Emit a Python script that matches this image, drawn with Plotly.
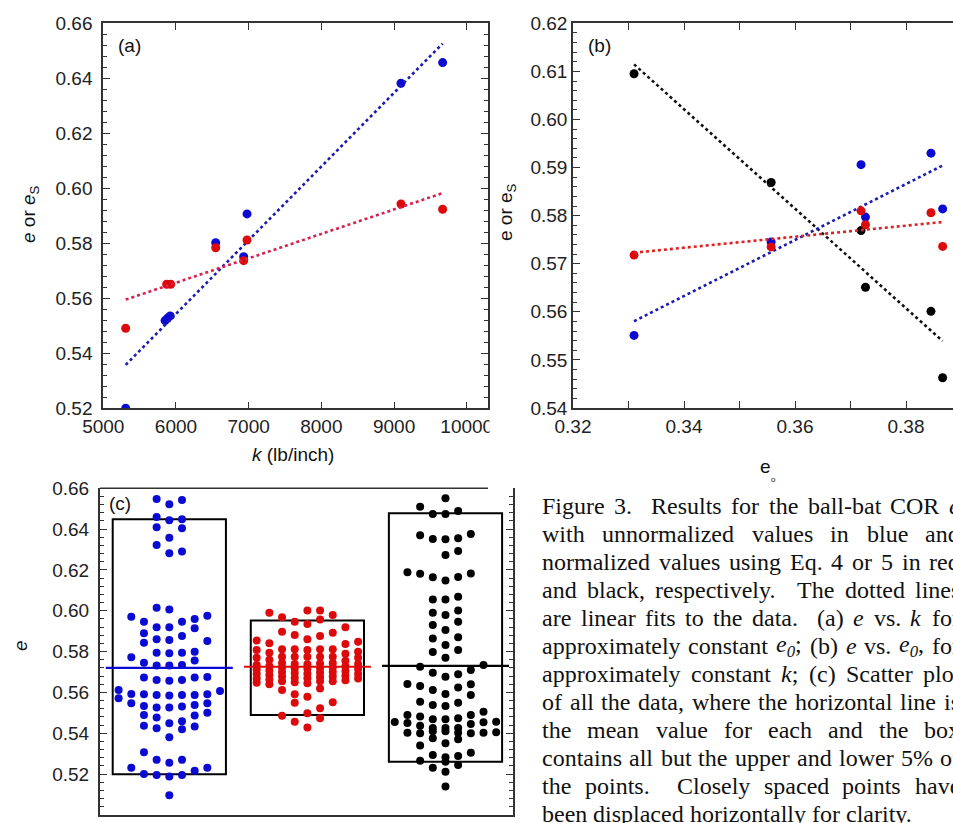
import re
import numpy as np
import plotly.graph_objects as go

# ---------------- data ----------------
# panel (a): e vs k
a_k_blue = [5308, 5850, 5885, 5920, 6546, 6931, 6977, 9095, 9668]
a_e_blue = [0.5200, 0.5519, 0.5528, 0.5536, 0.5802, 0.5751, 0.5907, 0.6382, 0.6457]
a_k_red = [5308, 5872, 5927, 6546, 6931, 6977, 9095, 9668]
a_e_red = [0.5491, 0.5651, 0.5651, 0.5784, 0.5737, 0.5812, 0.5943, 0.5924]

# panel (b): e vs e0
b_e0 = [0.3310, 0.3557, 0.3719, 0.3727, 0.3845, 0.3866]
b_e_blue = [0.5551, 0.5745, 0.5906, 0.5797, 0.5930, 0.5814]
b_e_red = [0.5718, 0.5735, 0.5810, 0.5781, 0.5806, 0.5736]
b_e_black = [0.6095, 0.5869, 0.5769, 0.5651, 0.5601, 0.5463]

# panel (c): swarm values and their column slot
c_blue_e = [0.6548, 0.6522, 0.6543, 0.6459, 0.6443, 0.6448, 0.6409, 0.6404, 0.6358, 0.6322, 0.6282, 0.6290,
            0.5971, 0.5947, 0.6015, 0.6007, 0.5947, 0.5960, 0.5976,
            0.5890, 0.5919, 0.5919, 0.5877, 0.5914,
            0.5844, 0.5861, 0.5857, 0.5852,
            0.5772, 0.5795, 0.5792, 0.5795, 0.5800,
            0.5746, 0.5732, 0.5732, 0.5735, 0.5757,
            0.5673, 0.5661, 0.5658, 0.5661, 0.5673, 0.5676,
            0.5612, 0.5572, 0.5593, 0.5591, 0.5588, 0.5585, 0.5588, 0.5588, 0.5591, 0.5607,
            0.5547, 0.5534, 0.5526, 0.5526, 0.5531, 0.5539, 0.5547,
            0.5490, 0.5478, 0.5487, 0.5501, 0.5449, 0.5459, 0.5437, 0.5425, 0.5420, 0.5433, 0.5381,
            0.5307, 0.5270, 0.5256, 0.5270, 0.5232, 0.5232, 0.5217, 0.5201, 0.5196, 0.5188, 0.5196, 0.5097]
c_blue_slot = [-1, 0, 1, -1, 0, 1, -1, 1, 0, -1, 0, 1,
               -3, -2, -1, 0, 1, 2, 3,
               -2, -1, 0, 1, 2,
               -2, -1, 0, 3,
               -3, -1, 0, 1, 2,
               -2, -1, 0, 1, 2,
               -2, -1, 0, 1, 2, 3,
               -4, -4, -3, -2, -1, 0, 1, 2, 3, 4,
               -3, -2, -1, 0, 1, 2, 3,
               -2, -1, 2, 3, 0, 1, -2, -1, 1, 2, 0,
               -2, -1, 0, 1, -3, 3, 2, -2, -1, 0, 1, 0]

c_red_e = [0.5854, 0.5808, 0.5770, 0.5735, 0.5712, 0.5690, 0.5668, 0.5648,
           0.5991, 0.5841, 0.5795, 0.5760, 0.5730, 0.5708, 0.5686, 0.5664, 0.5640,
           0.5968, 0.5898, 0.5812, 0.5775, 0.5745, 0.5722, 0.5700, 0.5678, 0.5655, 0.5612, 0.5486,
           0.5947, 0.5882, 0.5812, 0.5775, 0.5740, 0.5718, 0.5695, 0.5672, 0.5650, 0.5591, 0.5550, 0.5457,
           0.6001, 0.5935, 0.5861, 0.5808, 0.5775, 0.5738, 0.5715, 0.5692, 0.5670, 0.5645, 0.5579, 0.5498, 0.5428,
           0.6001, 0.5958, 0.5877, 0.5812, 0.5775, 0.5742, 0.5720, 0.5698, 0.5676, 0.5655, 0.5620, 0.5523, 0.5474,
           0.5980, 0.5893, 0.5812, 0.5775, 0.5745, 0.5722, 0.5700, 0.5678, 0.5655, 0.5552,
           0.5919, 0.5838, 0.5790, 0.5755, 0.5728, 0.5705, 0.5682, 0.5660,
           0.5849, 0.5800, 0.5770, 0.5740, 0.5715, 0.5690, 0.5668]
c_red_slot = [-4] * 8 + [-3] * 9 + [-2] * 11 + [-1] * 12 + [0] * 13 + [1] * 13 + [2] * 10 + [3] * 8 + [4] * 7

c_black_e = [0.6551, 0.6510, 0.6474, 0.6474, 0.6489,
             0.6370, 0.6352, 0.6350, 0.6355, 0.6376,
             0.6273, 0.6293,
             0.6189, 0.6181, 0.6164, 0.6148, 0.6166, 0.6183,
             0.6056, 0.6056, 0.6069,
             0.5991, 0.5980, 0.6001,
             0.5931, 0.5906, 0.5947,
             0.5865, 0.5833, 0.5870,
             0.5798, 0.5770, 0.5808,
             0.5726, 0.5697, 0.5677, 0.5689, 0.5710, 0.5735,
             0.5642, 0.5632, 0.5612, 0.5593, 0.5624, 0.5640,
             0.5555, 0.5539, 0.5534, 0.5550, 0.5588,
             0.5490, 0.5482, 0.5469, 0.5469, 0.5474, 0.5490, 0.5506,
             0.5456, 0.5451, 0.5437, 0.5426, 0.5426, 0.5426, 0.5446, 0.5454, 0.5457,
             0.5403, 0.5400, 0.5410, 0.5410, 0.5403, 0.5400, 0.5403, 0.5405,
             0.5376, 0.5371, 0.5351, 0.5340,
             0.5294, 0.5283, 0.5289, 0.5305,
             0.5266, 0.5261, 0.5245,
             0.5232, 0.5212,
             0.5139]
c_black_slot = [0, -2, -1, 0, 1,
                -2, -1, 0, 1, 2,
                0, 1,
                -3, -2, -1, 0, 1, 2,
                -1, 0, 1,
                -1, 0, 1,
                -1, 0, 1,
                -1, 0, 1,
                -1, 0, 1,
                -2, -1, 0, 1, 2, 3,
                -3, -2, -1, 0, 1, 2,
                -2, -1, 0, 1, 2,
                -3, -2, -1, 0, 1, 2, 3,
                -4, -3, -2, -1, 0, 1, 2, 3, 4,
                -3, -2, -1, 0, 1, 2, 3, 4,
                -1, 1, 0, -2,
                -1, 0, 1, 2,
                -2, 0, 1,
                -1, 0,
                0]

c_groups = [1, 2, 3]                      # blue, red, black
c_box_low = [0.5199, 0.5490, 0.5261]
c_box_high = [0.6448, 0.5952, 0.6478]
c_mean = [0.5721, 0.5726, 0.5730]

# ---------------- styling ----------------
W, H = 953, 823
BLUE = "#0a0ad2"
RED = "#dc0a0a"
BLACK = "#000000"
AX = "#333333"
SANS = "Liberation Sans, Arial, sans-serif"
SERIF = "Liberation Serif, Times New Roman, serif"
TICKFONT = dict(family=SANS, size=19, color="#222222")
NBSP = "\u00a0"


def fx(p):
    return p / W


def fy(p):
    return 1 - p / H


def fit_line(x, y):
    m, b = np.polyfit(x, y, 1)
    xs = np.array([min(x), max(x)])
    return xs, m * xs + b


fig = go.Figure()

# ---- panel (a)
for xs_, ys_, col, lcol in [(a_k_blue, a_e_blue, BLUE, "#1a1ab4"), (a_k_red, a_e_red, RED, "#d8204e")]:
    lx, ly = fit_line(xs_, ys_)
    fig.add_trace(go.Scatter(x=xs_, y=ys_, mode="markers", marker=dict(size=9, color=col),
                             xaxis="x", yaxis="y", showlegend=False))
    fig.add_trace(go.Scatter(x=lx, y=ly, mode="lines", line=dict(color=lcol, width=2.6, dash="dot"),
                             xaxis="x", yaxis="y", showlegend=False))

# ---- panel (b)
for ys_, col, lcol in [(b_e_black, BLACK, "#111111"), (b_e_blue, BLUE, "#1a1ab4"), (b_e_red, RED, "#e02020")]:
    lx, ly = fit_line(b_e0, ys_)
    fig.add_trace(go.Scatter(x=b_e0, y=ys_, mode="markers", marker=dict(size=9, color=col),
                             xaxis="x2", yaxis="y2", showlegend=False))
    fig.add_trace(go.Scatter(x=lx, y=ly, mode="lines", line=dict(color=lcol, width=2.6, dash="dot"),
                             xaxis="x2", yaxis="y2", showlegend=False))

# ---- panel (c)
SLOT = 0.0918
BOX_HALF = 0.41
MEAN_HALF = 0.46
shapes = []
for g, (vals, slots, col) in enumerate([(c_blue_e, c_blue_slot, BLUE),
                                        (c_red_e, c_red_slot, RED),
                                        (c_black_e, c_black_slot, BLACK)]):
    cx = c_groups[g]
    xs_ = [cx + s * SLOT for s in slots]
    fig.add_trace(go.Scatter(x=xs_, y=vals, mode="markers", marker=dict(size=8, color=col),
                             xaxis="x3", yaxis="y3", showlegend=False))
    fig.add_trace(go.Scatter(x=[cx - MEAN_HALF, cx + MEAN_HALF], y=[c_mean[g], c_mean[g]], mode="lines",
                             line=dict(color=col, width=2.2), xaxis="x3", yaxis="y3", showlegend=False))
    shapes.append(dict(type="rect", xref="x3", yref="y3", x0=cx - BOX_HALF, x1=cx + BOX_HALF,
                       y0=c_box_low[g], y1=c_box_high[g], line=dict(color=BLACK, width=2), layer="below"))

# frame pieces / cover
shapes.append(dict(type="line", xref="paper", yref="paper", x0=fx(100), x1=fx(488), y0=fy(488.3), y1=fy(488.3),
                   line=dict(color=AX, width=1.5)))
shapes.append(dict(type="rect", xref="paper", yref="paper", x0=fx(489.5), x1=fx(518), y0=fy(438), y1=fy(410),
                   fillcolor="white", line=dict(width=0), layer="above"))

common = dict(showline=True, linecolor=AX, linewidth=1.5, ticks="inside", ticklen=7, tickwidth=1.3,
              tickcolor=AX, showgrid=False, zeroline=False, tickfont=TICKFONT, automargin=False)
minor = dict(ticks="inside", ticklen=4, tickwidth=1, tickcolor=AX)

layout = dict(
    template="none",
    width=W, height=H, autosize=False, margin=dict(l=0, r=0, t=0, b=0, pad=0, autoexpand=False),
    paper_bgcolor="white", plot_bgcolor="white",
    showlegend=False, shapes=shapes,
    xaxis=dict(domain=[fx(103.3), fx(488)], range=[5000, 10292], tickvals=[5000, 6000, 7000, 8000, 9000, 10000],
               tickformat="d", mirror="ticks", anchor="y", **common),
    yaxis=dict(domain=[fy(408.3), fy(23.3)], range=[0.52, 0.66], dtick=0.02, tickformat=".2f",
               ticksuffix=NBSP, mirror="allticks", anchor="x", minor=dict(dtick=0.004, **minor), **common),
    xaxis2=dict(domain=[fx(573), 1.0], range=[0.32, 0.32 + 380 / 5550],
                tickvals=[0.32, 0.33, 0.34, 0.35, 0.36, 0.37, 0.38],
                ticktext=["0.32", "", "0.34", "", "0.36", "", "0.38"], mirror="ticks", anchor="y2", **common),
    yaxis2=dict(domain=[fy(408), fy(23.3)], range=[0.54, 0.62], dtick=0.01, tickformat=".2f",
                anchor="x2", minor=dict(dtick=0.002, **minor), **common),
    xaxis3=dict(domain=[fx(100), fx(513)], range=[0.498, 3.489], showline=True, linecolor=AX, linewidth=1.5,
                ticks="", showticklabels=False, showgrid=False, zeroline=False, anchor="y3", automargin=False),
    yaxis3=dict(domain=[fy(815), fy(488.3)], range=[0.50, 0.66], dtick=0.02, tickformat=".2f",
                ticksuffix=NBSP, mirror="allticks", anchor="x3", minor=dict(dtick=0.004, **minor), **common),
)

ann = []


def A(text, x, y, size=19, family=SANS, angle=0, xanchor="center", yanchor="middle"):
    ann.append(dict(text=text, x=fx(x), y=fy(y), xref="paper", yref="paper", showarrow=False,
                    font=dict(family=family, size=size, color="#111111"), textangle=angle,
                    xanchor=xanchor, yanchor=yanchor, borderpad=0))


A("(a)", 117, 46, xanchor="left")
A("(b)", 587, 46, xanchor="left")
A("(c)", 108, 503, xanchor="left")
A("<i>e</i> or <i>e</i><sub>S</sub>", 30, 214, angle=-90)
A("e or e<sub>S</sub>", 507, 212, angle=-90)
A("<i>e</i>", 20, 646, angle=-90)
A("<i>k</i> (lb/inch)", 293, 454)
A("e", 765, 467, size=19)
A("o", 773, 480, size=8)

# ---------------- caption (justified) ----------------
CAPTION = [
    "Figure 3.  Results for the ball-bat COR <i>e</i>",
    "with unnormalized values in blue and",
    "normalized values using Eq. 4 or 5 in red",
    "and black, respectively.  The dotted lines",
    "are linear fits to the data.  (a) <i>e</i> vs. <i>k</i> for",
    "approximately constant <i>e<sub>0</sub></i>; (b) <i>e</i> vs. <i>e<sub>0</sub></i>, for",
    "approximately constant <i>k</i>; (c) Scatter plot",
    "of all the data, where the horizontal line is",
    "the mean value for each and the box",
    "contains all but the upper and lower 5% of",
    "the points.  Closely spaced points have",
    "been displaced horizontally for clarity.",
]
TW = {' ': 250, '!': 333, '%': 833, '(': 333, ')': 333, ',': 250, '-': 333, '.': 250, ';': 278, ':': 278,
      'A': 722, 'B': 667, 'C': 667, 'D': 722, 'E': 611, 'F': 556, 'G': 722, 'H': 722, 'I': 333, 'O': 722,
      'R': 667, 'S': 556, 'T': 611,
      'a': 444, 'b': 500, 'c': 444, 'd': 500, 'e': 444, 'f': 333, 'g': 500, 'h': 500, 'i': 278, 'j': 278,
      'k': 500, 'l': 278, 'm': 778, 'n': 500, 'o': 500, 'p': 500, 'q': 500, 'r': 333, 's': 389, 't': 278,
      'u': 500, 'v': 500, 'w': 722, 'x': 500, 'y': 500, 'z': 444}
CAP_SIZE = 24
CAP_X0 = 541
CAP_W = 418
CAP_Y0 = 506
CAP_DY = 28.0


def html_width(s, size):
    total, sub = 0.0, False
    for tok in re.split(r'(<[^>]+>)', s):
        if tok.startswith('<'):
            if tok == '<sub>':
                sub = True
            elif tok == '</sub>':
                sub = False
            continue
        for ch in tok:
            total += TW.get(ch, 500) / 1000 * size * (0.7 if sub else 1.0)
    return total


for i, line in enumerate(CAPTION):
    tokens = line.split(' ')
    words, before, pending = [], [], 0
    for j, t in enumerate(tokens):
        if j > 0:
            pending += 1
        if t == '':
            continue
        before.append(pending if words else 0)
        words.append(t)
        pending = 0
    widths = [html_width(w, CAP_SIZE) for w in words]
    nsp = sum(before)
    if i == len(CAPTION) - 1:
        sp = 0.25 * CAP_SIZE
    else:
        sp = (CAP_W - sum(widths)) / nsp
    x = CAP_X0
    y = CAP_Y0 + i * CAP_DY
    for w, wd, b in zip(words, widths, before):
        x += b * sp
        A(w, x, y, size=CAP_SIZE, family=SERIF, xanchor="left")
        x += wd

layout["annotations"] = ann
fig.update_layout(**layout)
fig.write_html("out.html", config={"displayModeBar": False, "responsive": False},
               post_script="document.body.style.margin='0';document.body.style.overflow='hidden';")
